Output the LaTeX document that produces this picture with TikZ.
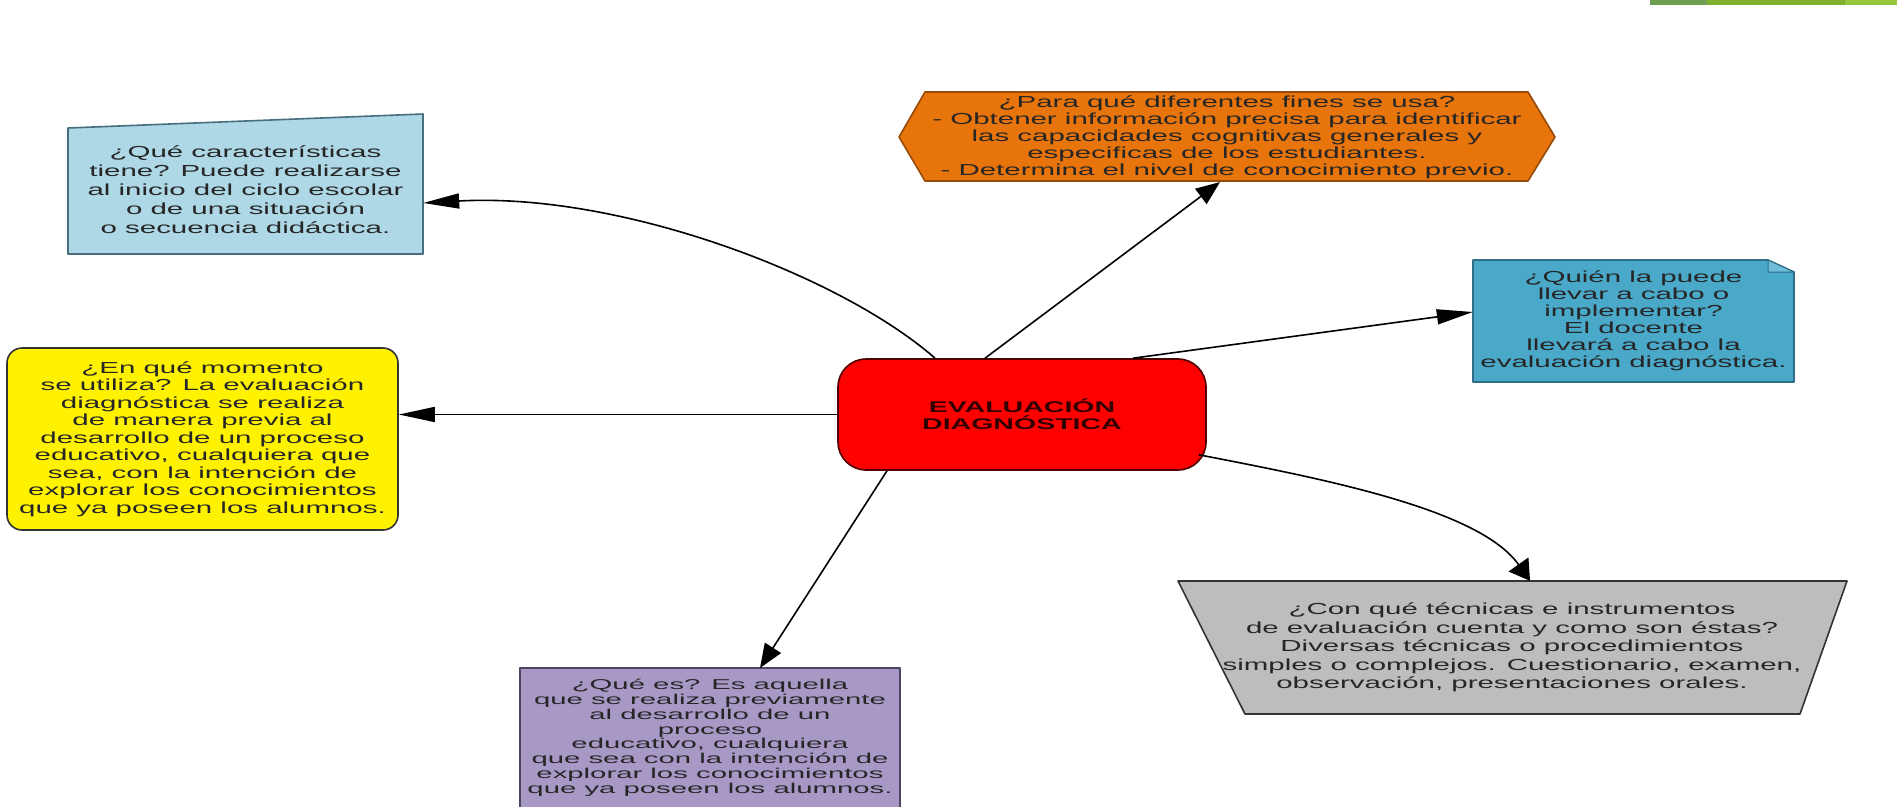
\documentclass[tikz,border=0pt]{standalone}
\usepackage{fontspec}
\setmainfont{Liberation Sans}[FakeStretch=1.84]
\newfontfamily\apretada{Liberation Sans}[FakeStretch=2.05]
\usetikzlibrary{arrows.meta,positioning}

\definecolor{celeste}{RGB}{174,216,230}
\definecolor{celesteborde}{RGB}{70,110,126}
\definecolor{naranja}{RGB}{232,116,12}
\definecolor{naranjaborde}{RGB}{150,75,10}
\definecolor{turquesa}{RGB}{74,168,201}
\definecolor{turquesaborde}{RGB}{46,110,134}
\definecolor{pliegue}{RGB}{110,190,218}
\definecolor{rojo}{RGB}{255,0,0}
\definecolor{rojoborde}{RGB}{80,0,0}
\definecolor{rojotexto}{RGB}{50,0,0}
\definecolor{lila}{RGB}{168,152,198}
\definecolor{lilaborde}{RGB}{75,69,96}
\definecolor{gris}{RGB}{189,189,189}
\definecolor{verdeA}{RGB}{110,158,80}
\definecolor{verdeB}{RGB}{128,176,48}
\definecolor{verdeC}{RGB}{150,198,62}

\begin{document}
\begin{tikzpicture}[x=1pt, y=-1pt, line join=round,
    txt/.style={align=center, font=\fontsize{16}{18}\selectfont, text=black!85},
    borde/.style={line width=1.6pt},
    flechah/.style={line width=1.6pt, -{Triangle[length=36pt,width=15pt]}},
    flechad/.style={line width=1.6pt, -{Triangle[length=24pt,width=19pt]}},
    flechav/.style={line width=1.6pt, -{Triangle[length=20pt,width=24pt]}}]

    \useasboundingbox (0,0) rectangle (1897,806);

    % barra verde
    \fill[verdeA] (1650,0) rectangle (1707,5);
    \fill[verdeB] (1707,0) rectangle (1845,5);
    \fill[verdeC] (1845,0) rectangle (1897,5);

    % centro
    \node[txt, fill=rojo, draw=rojoborde, borde, rounded corners=28pt,
          minimum width=368pt, minimum height=111pt, text=rojotexto,
          font=\fontsize{15.5}{17}\selectfont\bfseries] (eval) at (1022,414.5)
          {EVALUACIÓN\\DIAGNÓSTICA};

    % caracteristicas
    \filldraw[fill=celeste, draw=celesteborde, borde]
        (68,128) -- (423,114) -- (423,254) -- (68,254) -- cycle;
    \node[txt, font=\fontsize{16}{19}\selectfont, minimum width=355pt,
          minimum height=140pt] (carac) at (245.5,190)
        {¿Qué características\\tiene? Puede realizarse\\al inicio del ciclo escolar\\o de una situación\\o secuencia didáctica.};

    % fines
    \filldraw[fill=naranja, draw=naranjaborde, borde]
        (899,137) -- (925,92) -- (1528,92) -- (1555,137) -- (1528,181) -- (925,181) -- cycle;
    \node[txt, font=\fontsize{16}{17}\selectfont, minimum width=656pt,
          minimum height=89pt] (fines) at (1227,137)
        {¿Para qué diferentes fines se usa?\\- Obtener información precisa para identificar\\las capacidades cognitivas generales y\\especificas de los estudiantes.\\- Determina el nivel de conocimiento previo.};

    % quien
    \filldraw[fill=turquesa, draw=turquesaborde, borde]
        (1473,260) -- (1768,260) -- (1794,272) -- (1794,382) -- (1473,382) -- cycle;
    \filldraw[fill=pliegue, draw=turquesaborde, line width=1pt]
        (1768,260) -- (1768,272) -- (1794,272) -- cycle;
    \node[txt, font=\fontsize{16}{17}\selectfont, minimum width=321pt,
          minimum height=122pt] (quien) at (1633.5,321)
        {¿Quién la puede\\llevar a cabo o\\implementar?\\El docente\\llevará a cabo la\\evaluación diagnóstica.};

    % momento
    \node[txt, font=\fontsize{16}{17.5}\selectfont, fill=yellow, draw=black!80,
          borde, rounded corners=15pt, minimum width=391pt,
          minimum height=182pt] (momento) at (202.5,439)
        {¿En qué momento\\se utiliza? La evaluación\\diagnóstica se realiza\\de manera previa al\\desarrollo de un proceso\\educativo, cualquiera que\\sea, con la intención de\\explorar los conocimientos\\que ya poseen los alumnos.};

    % que es
    \filldraw[fill=lila, draw=lilaborde, borde] (520,668) rectangle (900,830);
    \node[txt, font=\apretada\fontsize{14.3}{14.8}\selectfont, anchor=north,
          inner ysep=11pt, minimum width=380pt] (quees) at (710,668)
        {¿Qué es? Es aquella\\que se realiza previamente\\al desarrollo de un\\proceso\\educativo, cualquiera\\que sea con la intención de\\explorar los conocimientos\\que ya poseen los alumnos.};

    % tecnicas
    \filldraw[fill=gris, draw=black!80, borde]
        (1178,581) -- (1847,581) -- (1800,714) -- (1245,714) -- cycle;
    \node[txt, font=\fontsize{16}{18.5}\selectfont, minimum width=669pt,
          minimum height=133pt] (tecnicas) at (1512,647.5)
        {¿Con qué técnicas e instrumentos\\de evaluación cuenta y como son éstas?\\Diversas técnicas o procedimientos\\simples o complejos. Cuestionario, examen,\\observación, presentaciones orales.};

    % conectores
    \draw[flechah] ([xshift=-87pt]eval.north) .. controls (840,275) and (620,192) .. ([yshift=-13pt]carac.east);
    \draw[flechad] ([xshift=-37pt]eval.north) -- ([xshift=-7pt]fines.south);
    \draw[flechah] ([xshift=111pt]eval.north) -- ([yshift=9pt]quien.west);
    \draw[flechah] (eval.west) -- (eval.west -| momento.east);
    \draw[flechad] ([xshift=-135pt]eval.south) -- ([xshift=50pt]quees.north);
    \draw[flechav] ([shift={(-8pt,16pt)}]eval.south east) .. controls (1330,480) and (1480,510) .. ([xshift=18pt]tecnicas.north);

\end{tikzpicture}
\end{document}
